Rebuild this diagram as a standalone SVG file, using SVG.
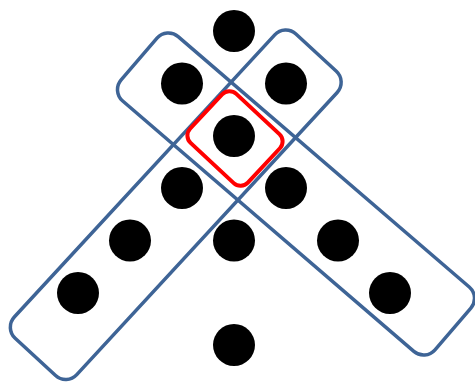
<svg xmlns="http://www.w3.org/2000/svg" width="475" height="384" viewBox="0 0 475 384">
<style>
.band{fill:none;stroke:#3E6496;stroke-width:3.5}
.sel{fill:none;stroke:#FF0000;stroke-width:4}
.dot{fill:#000000}
</style>
<rect width="475" height="384" fill="#ffffff"/>
<g id="bandA"><rect class="band" x="-207" y="-42.5" width="414" height="85" rx="15" transform="translate(296,194) rotate(40.7)"/></g>
<g id="bandB"><rect class="band" x="-207" y="-42.5" width="414" height="85" rx="15" transform="translate(175.75,204.75) rotate(-47.3)"/></g>
<g id="selection"><rect class="sel" x="-39.5" y="-33.5" width="79" height="67" rx="10" transform="translate(235,138.5) rotate(43)"/></g>
<g id="dots">
<g id="d1"><circle class="dot" cx="234" cy="31" r="21"/></g>
<g id="d2"><circle class="dot" cx="182" cy="83.5" r="21"/></g>
<g id="d3"><circle class="dot" cx="286" cy="83.5" r="21"/></g>
<g id="d4"><circle class="dot" cx="234" cy="136" r="21"/></g>
<g id="d5"><circle class="dot" cx="182" cy="188" r="21"/></g>
<g id="d6"><circle class="dot" cx="286" cy="188" r="21"/></g>
<g id="d7"><circle class="dot" cx="130" cy="240.5" r="21"/></g>
<g id="d8"><circle class="dot" cx="234" cy="240.5" r="21"/></g>
<g id="d9"><circle class="dot" cx="338" cy="240.5" r="21"/></g>
<g id="d10"><circle class="dot" cx="78" cy="293" r="21"/></g>
<g id="d11"><circle class="dot" cx="390" cy="293" r="21"/></g>
<g id="d12"><circle class="dot" cx="234" cy="345" r="21"/></g>
</g>
</svg>
